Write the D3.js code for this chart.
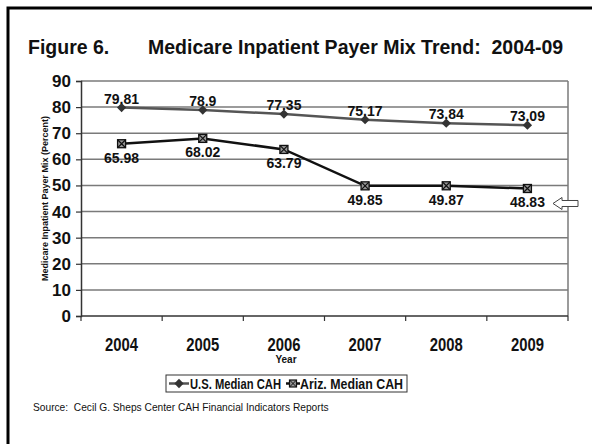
<!DOCTYPE html>
<html>
<head>
<meta charset="utf-8">
<script src="https://cdn.jsdelivr.net/npm/d3@7"></script>
<style>
  body { margin: 0; background: #fff; }
  svg { display: block; }
  text { font-family: "Liberation Sans", Arial, sans-serif; fill: #111; }
</style>
</head>
<body>
<svg width="592" height="444"></svg>
<script>
// chart values
var years = ["2004", "2005", "2006", "2007", "2008", "2009"];
var usMedian = [79.81, 78.9, 77.35, 75.17, 73.84, 73.09];
var azMedian = [65.98, 68.02, 63.79, 49.85, 49.87, 48.83];
var yTicks = [0, 10, 20, 30, 40, 50, 60, 70, 80, 90];
var seriesNames = ["U.S. Median CAH", "Ariz. Median CAH"];

var svg = d3.select("svg"),
    margin = {top: 81, right: 24, bottom: 128, left: 81},
    width = 592 - margin.left - margin.right,
    height = 444 - margin.top - margin.bottom;

// outer frame (open at the right and bottom, like the scan)
svg.append("path")
    .attr("d", "M8,444 V8 H592")
    .attr("fill", "none")
    .attr("stroke", "#000")
    .attr("stroke-width", 3);

// title
svg.append("text")
    .attr("x", 28).attr("y", 54)
    .style("font-size", "19.5px").style("font-weight", "bold")
    .text("Figure 6.");
svg.append("text")
    .attr("x", 148).attr("y", 54)
    .style("font-size", "19.5px").style("font-weight", "bold")
    .attr("xml:space", "preserve")
    .text("Medicare Inpatient Payer Mix Trend:  2004-09");

var g = svg.append("g")
    .attr("transform", "translate(" + margin.left + "," + margin.top + ")");

var x = d3.scaleBand()
    .domain(years)
    .range([0, width])
    .padding(0);

var y = d3.scaleLinear()
    .domain([0, 90])
    .range([height, 0]);

var cx = function(i) { return x(years[i]) + x.bandwidth() / 2; };

// grid lines
g.append("g")
    .selectAll("line")
    .data(yTicks.slice(1))
    .enter().append("line")
    .attr("x1", 0).attr("x2", width)
    .attr("y1", function(d) { return y(d); })
    .attr("y2", function(d) { return y(d); })
    .attr("stroke", "#7a7a7a")
    .attr("stroke-width", 1.5);

// right border of plot area
g.append("line")
    .attr("x1", width).attr("x2", width)
    .attr("y1", 0).attr("y2", height)
    .attr("stroke", "#7a7a7a")
    .attr("stroke-width", 1.5);

// y axis
var yAxis = g.append("g")
    .call(d3.axisLeft(y).tickValues(yTicks).tickSize(5).tickPadding(5));
yAxis.select(".domain").attr("stroke", "#333").attr("stroke-width", 1.5);
yAxis.selectAll(".tick line").attr("stroke", "#333").attr("stroke-width", 1.2);
yAxis.selectAll(".tick text")
    .style("font-size", "17px").style("font-weight", "bold")
    .attr("fill", "#111");

// x axis: ticks on category boundaries, labels in band centres
var xAxis = g.append("g")
    .attr("transform", "translate(0," + height + ")");
xAxis.append("line")
    .attr("x1", 0).attr("x2", width)
    .attr("stroke", "#333").attr("stroke-width", 1.5);
xAxis.selectAll(".xtick")
    .data(years.concat(["end"]))
    .enter().append("line")
    .attr("class", "xtick")
    .attr("x1", function(d) { return d === "end" ? width : x(d); })
    .attr("x2", function(d) { return d === "end" ? width : x(d); })
    .attr("y1", 0).attr("y2", 5)
    .attr("stroke", "#333").attr("stroke-width", 1.2);
xAxis.selectAll(".xlabel")
    .data(years)
    .enter().append("text")
    .attr("class", "xlabel")
    .attr("x", function(d) { return x(d) + x.bandwidth() / 2 - 16.5; })
    .attr("y", 35)
    .attr("textLength", 33)
    .attr("lengthAdjust", "spacingAndGlyphs")
    .style("font-size", "19px").style("font-weight", "bold")
    .text(function(d) { return d; });

// axis titles
svg.append("text")
    .attr("transform", "translate(48," + (margin.top + height / 2) + ") rotate(-90)")
    .attr("text-anchor", "middle")
    .style("font-size", "9px").style("font-weight", "bold")
    .text("Medicare Inpatient Payer Mix (Percent)");

svg.append("text")
    .attr("x", 286).attr("y", 363)
    .attr("text-anchor", "middle")
    .style("font-size", "10px").style("font-weight", "bold")
    .text("Year");

var line = d3.line()
    .x(function(d, i) { return cx(i); })
    .y(function(d) { return y(d); });

// U.S. series
g.append("path")
    .datum(usMedian)
    .attr("d", line)
    .attr("fill", "none")
    .attr("stroke", "#555")
    .attr("stroke-width", 2.5);

var diamond = d3.symbol().type(d3.symbolDiamond2).size(55);
g.selectAll(".us-pt")
    .data(usMedian)
    .enter().append("path")
    .attr("class", "us-pt")
    .attr("transform", function(d, i) { return "translate(" + cx(i) + "," + y(d) + ")"; })
    .attr("d", diamond)
    .attr("fill", "#333");

g.selectAll(".us-lbl")
    .data(usMedian)
    .enter().append("text")
    .attr("class", "us-lbl")
    .attr("x", function(d, i) { return cx(i); })
    .attr("y", function(d) { return y(d) - 4; })
    .attr("text-anchor", "middle")
    .style("font-size", "14px").style("font-weight", "bold")
    .attr("fill", "#222")
    .text(function(d) { return d; });

// Arizona series
g.append("path")
    .datum(azMedian)
    .attr("d", line)
    .attr("fill", "none")
    .attr("stroke", "#111")
    .attr("stroke-width", 2.5);

var az = g.selectAll(".az-pt")
    .data(azMedian)
    .enter().append("g")
    .attr("class", "az-pt")
    .attr("transform", function(d, i) { return "translate(" + cx(i) + "," + y(d) + ")"; });
az.append("rect")
    .attr("x", -4).attr("y", -4).attr("width", 8).attr("height", 8)
    .attr("fill", "#999").attr("stroke", "#111").attr("stroke-width", 1.3);
az.append("path")
    .attr("d", "M-4,-4L4,4M4,-4L-4,4")
    .attr("stroke", "#111").attr("stroke-width", 1.2);

g.selectAll(".az-lbl")
    .data(azMedian)
    .enter().append("text")
    .attr("class", "az-lbl")
    .attr("x", function(d, i) { return cx(i); })
    .attr("y", function(d, i) { return y(d) + 19; })
    .attr("text-anchor", "middle")
    .style("font-size", "14px").style("font-weight", "bold")
    .attr("fill", "#222")
    .text(function(d) { return d; });

// hollow arrow pointing at the last Arizona label
var ay = y(azMedian[azMedian.length - 1]) + 15,
    ax = width - 15;
g.append("path")
    .attr("d", "M" + ax + "," + ay + " l9,-6 v3 h16 v6 h-16 v3 z")
    .attr("fill", "#fff")
    .attr("stroke", "#444")
    .attr("stroke-width", 1);

// legend
var legend = svg.append("g").attr("transform", "translate(166,375)");
legend.append("rect")
    .attr("width", 241).attr("height", 17)
    .attr("fill", "#fff").attr("stroke", "#333").attr("stroke-width", 1);

var usKey = legend.append("g").attr("transform", "translate(3,8.5)");
usKey.append("line").attr("x1", 0).attr("x2", 20)
    .attr("stroke", "#555").attr("stroke-width", 2.5);
usKey.append("path").attr("transform", "translate(10,0)")
    .attr("d", diamond).attr("fill", "#333");
usKey.append("text").attr("x", 21).attr("y", 5)
    .attr("textLength", 91).attr("lengthAdjust", "spacingAndGlyphs")
    .style("font-size", "14px").style("font-weight", "bold")
    .text(seriesNames[0]);

var azKey = legend.append("g").attr("transform", "translate(120,8.5)");
azKey.append("line").attr("x1", 0).attr("x2", 14)
    .attr("stroke", "#111").attr("stroke-width", 2.5);
azKey.append("rect").attr("x", 3.5).attr("y", -3.5).attr("width", 7).attr("height", 7)
    .attr("fill", "#999").attr("stroke", "#111").attr("stroke-width", 1.2);
azKey.append("path").attr("d", "M3.5,-3.5L10.5,3.5M10.5,-3.5L3.5,3.5")
    .attr("stroke", "#111").attr("stroke-width", 1);
azKey.append("text").attr("x", 14).attr("y", 5)
    .attr("textLength", 103).attr("lengthAdjust", "spacingAndGlyphs")
    .style("font-size", "14px").style("font-weight", "bold")
    .text(seriesNames[1]);

// source note
svg.append("text")
    .attr("x", 33).attr("y", 411)
    .style("font-size", "10.2px")
    .attr("xml:space", "preserve")
    .attr("fill", "#222")
    .text("Source:  Cecil G. Sheps Center CAH Financial Indicators Reports");
</script>
</body>
</html>
